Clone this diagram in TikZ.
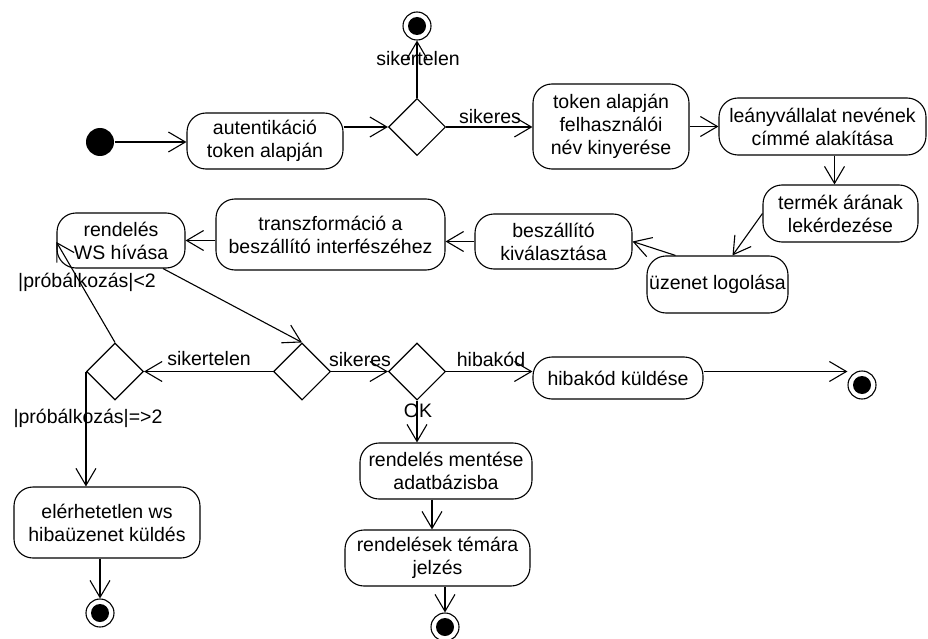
\documentclass[tikz,border=0pt]{standalone}
\usepackage{fontspec}
\setmainfont{Liberation Sans}
\usetikzlibrary{arrows.meta,shapes.geometric}
\begin{document}
\begin{tikzpicture}[x=1pt,y=-1pt,
  line width=1.1pt,
  every node/.style={font=\fontsize{19.5}{23}\selectfont},
  act/.style={draw, rounded corners=19pt, align=center, inner sep=0pt},
  decision/.style={draw, diamond, minimum width=57pt, minimum height=57pt, inner sep=0pt},
  startnode/.style={circle, fill, minimum size=28pt, inner sep=0pt},
  endnode/.style={circle, draw, minimum size=28pt, inner sep=0pt,
    path picture={\fill (path picture bounding box.center) circle (9pt);}},
  flow/.style={-{Straight Barb[length=17pt,width=20pt]}},
]
\useasboundingbox (0,0) rectangle (928,639);

% activities
\node[startnode] (start) at (100,142) {};
\node[act, minimum width=156pt, minimum height=56pt] (auth) at (265,141) {autentikáció\\token alapján};
\node[decision] (d1) at (417,127) {};
\node[endnode] (fTop) at (417,26) {};
\node[act, minimum width=156pt, minimum height=85pt] (tok) at (611,126.5) {token alapján\\felhasználói\\név kinyerése};
\node[act, minimum width=207pt, minimum height=57pt] (leany) at (822.5,126.5) {leányvállalat nevének\\címmé alakítása};
\node[act, minimum width=155pt, minimum height=57pt] (termek) at (840.5,213.5) {termék árának\\lekérdezése};
\node[act, minimum width=141pt, minimum height=57pt] (uzenet) at (717.5,284.5) {üzenet logolása};
\node[act, minimum width=157pt, minimum height=55pt] (besz) at (553.5,241.5) {beszállító\\kiválasztása};
\node[act, minimum width=229pt, minimum height=71pt] (transz) at (330.5,234.5) {transzformáció a\\beszállító interfészéhez};
\node[act, minimum width=128pt, minimum height=55pt] (rend) at (121,240.5) {rendelés\\WS hívása};
\node[decision] (d2) at (302,371.5) {};
\node[decision] (d3) at (115,371.5) {};
\node[decision] (d4) at (417,371.5) {};
\node[act, minimum width=170pt, minimum height=42pt] (hk) at (618,378) {hibakód küldése};
\node[endnode] (fR) at (862,385) {};
\node[act, minimum width=186pt, minimum height=71pt] (elerh) at (107,522.5) {elérhetetlen ws\\hibaüzenet küldés};
\node[endnode] (fBL) at (100,613) {};
\node[act, minimum width=172pt, minimum height=56pt] (ment) at (446,471) {rendelés mentése\\adatbázisba};
\node[act, minimum width=185pt, minimum height=56pt] (tem) at (437.5,558) {rendelések témára\\jelzés};
\node[endnode] (fBM) at (445,627) {};

% guard labels
\node (lSikertelenTop) at (418,59) {sikertelen};
\node (lSikeresTop) at (490,117) {sikeres};
\node (lSikertelen) at (209,359) {sikertelen};
\node (lSikeres) at (360,360) {sikeres};
\node (lHibakod) at (491,359) {hibakód};
\node (lOK) at (418,411) {OK};
\node (lLess) at (87,282) {|próbálkozás|<2};
\node (lGe) at (88,418) {|próbálkozás|=>2};

% helper points on box edges
\coordinate (tIn) at ([xshift=-6pt]termek.north);
\coordinate (mOut) at ([xshift=-14pt]ment.south);

% transitions
\draw[flow] (start) -- (start -| auth.west);
\draw[flow] (auth.east |- d1.west) -- (d1.west);
\draw[flow] (d1.north) -- (fTop.south);
\draw[flow] (d1.east) -- (d1.east -| tok.west);
\draw[flow] (tok.east) -- (leany.west);
\draw[flow] (tIn |- leany.south) -- (tIn);
\draw[flow] (termek.west) -- ([xshift=15pt]uzenet.north);
\draw[flow] ([xshift=-42pt]uzenet.north) -- (besz.east);
\draw[flow] (besz.west) -- (besz.west -| transz.east);
\draw[flow] (transz.west |- rend.east) -- (rend.east);
\draw[flow] ([xshift=42pt]rend.south) -- (d2.north);
\draw[flow] (d2.west) -- (d3.east);
\draw[flow] (d2.east) -- (d4.west);
\draw[flow] (d3.north) -- ([yshift=-1.5pt]rend.west);
\draw[flow] (d3.west) -- (d3.west |- elerh.north);
\draw[flow] (fBL.north |- elerh.south) -- (fBL.north);
\draw[flow] (d4.south) -- (d4.south |- ment.north);
\draw[flow] (mOut) -- (mOut |- tem.north);
\draw[flow] (fBM.north |- tem.south) -- (fBM.north);
\draw[flow] (d4.east) -- (d4.east -| hk.west);
\draw[flow] (hk.east |- d4.east) -- (d4.east -| fR.west);
\end{tikzpicture}
\end{document}
